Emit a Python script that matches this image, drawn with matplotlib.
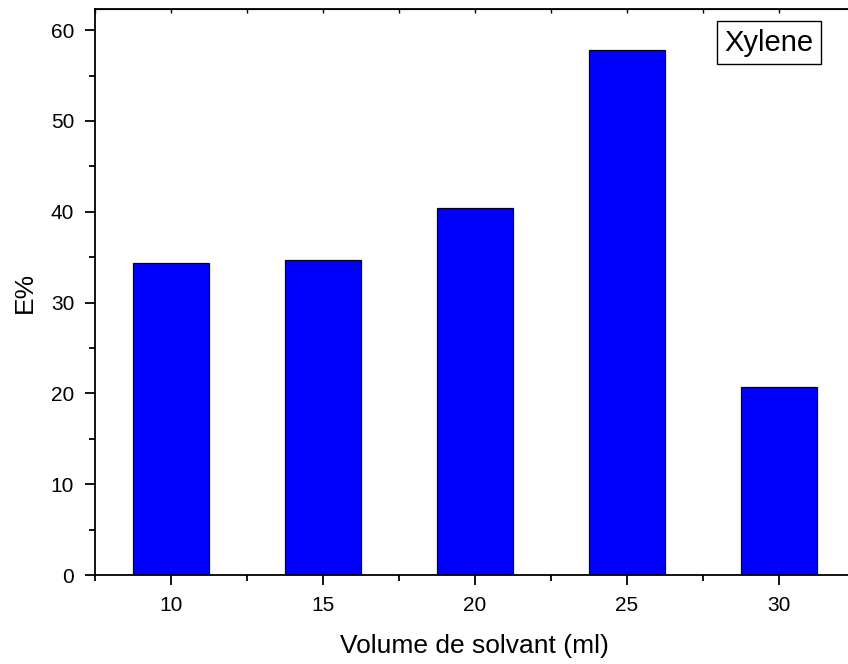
import numpy as np
import matplotlib
matplotlib.use('Agg')
from matplotlib import pyplot as plt
from matplotlib.ticker import MultipleLocator

# data
volumes = [10, 15, 20, 25, 30]
extraction = [34.4, 34.7, 40.4, 57.8, 20.7]

plt.rcParams['font.family'] = ['Liberation Sans', 'DejaVu Sans']

fig = plt.figure(figsize=(8.48, 6.64), dpi=100)
ax = fig.add_axes([0.112, 0.134, 0.8957, 0.852])

ax.bar(volumes, extraction, width=2.5, color='#0000ff', edgecolor='#000033', linewidth=0.9)

ax.set_xlim(7.5, 32.5)
ax.set_ylim(0, 62.3)
ax.xaxis.set_major_locator(MultipleLocator(5))
ax.xaxis.set_minor_locator(MultipleLocator(2.5))
ax.yaxis.set_major_locator(MultipleLocator(10))
ax.yaxis.set_minor_locator(MultipleLocator(5))

ax.tick_params(which='major', direction='out', length=7, width=1.3, labelsize=15, pad=8)
ax.tick_params(which='minor', direction='out', length=4, width=1.3)

for s in ax.spines.values():
    s.set_linewidth(1.3)

# small inward ticks along the top
top = ax.secondary_xaxis('top')
top.xaxis.set_major_locator(MultipleLocator(5))
top.xaxis.set_minor_locator(MultipleLocator(2.5))
top.tick_params(which='both', direction='in', length=3, width=1.0, labeltop=False)

ax.set_xlabel('Volume de solvant (ml)', fontsize=19, labelpad=14)
ax.set_ylabel('E%', fontsize=19, labelpad=10)

ax.text(0.887, 0.941, 'Xylene', transform=ax.transAxes, fontsize=21,
        ha='center', va='center',
        bbox=dict(boxstyle='square,pad=0.25', facecolor='white', edgecolor='black', linewidth=1.0))

fig.savefig('out.png', dpi=100)
